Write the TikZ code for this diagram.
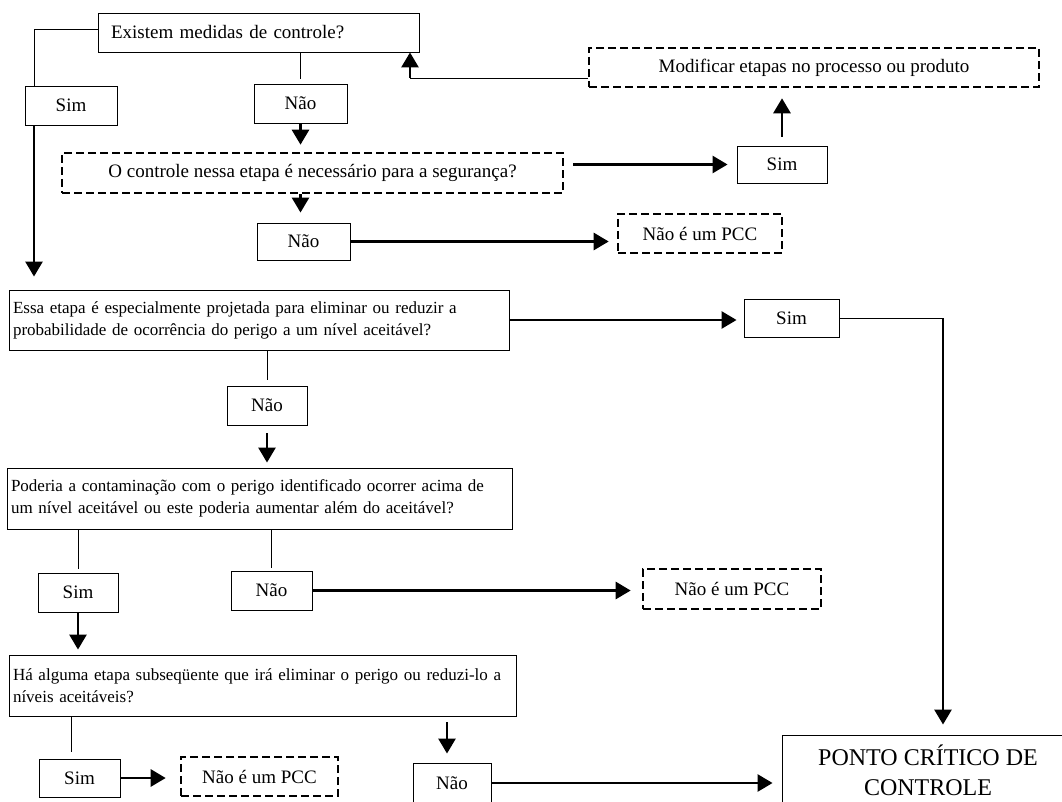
\documentclass[tikz,border=0pt]{standalone}
\usepackage{fontspec}
\setmainfont{Liberation Serif}
\usepackage{tikz}
\usetikzlibrary{positioning,arrows.meta,calc}
\tikzset{
box/.style={
draw,
line width=0.9pt,
inner sep=0pt,
align=center,
font=\fontsize{19}{22}\selectfont
},
qbox/.style={
box,
align=left,
inner xsep=4pt
},
longq/.style={
qbox,
font=\fontsize{17}{22}\selectfont
},
dbox/.style={
box,
line width=2.6pt,
dash pattern=on 8pt off 4pt
},
arrow/.style={
-{Triangle[length=15pt,width=17pt]},
line width=2.8pt
},
line/.style={
line width=0.9pt
}
}

\begin{document}
\begin{tikzpicture}[x=1pt,y=-1pt]
\useasboundingbox (0,0) rectangle (1062,802);
\clip (0,0) rectangle (1062,802);

% questions
\node[qbox,inner xsep=13pt,text width=295pt,minimum height=39pt](q1) at (258.5,32.5){Existem medidas de controle?};
\node[dbox,minimum width=501pt,minimum height=40pt](q2) at (312.5,173){O controle nessa etapa é necessário para a segurança?};
\node[longq,text width=492pt,minimum height=60pt](q3) at (259,320){Essa etapa é especialmente projetada para eliminar ou reduzir a\\probabilidade de ocorrência do perigo a um nível aceitável?};
\node[longq,text width=497pt,minimum height=61pt](q4) at (259.5,498.5){Poderia a contaminação com o perigo identificado ocorrer acima de\\um nível aceitável ou este poderia aumentar além do aceitável?};
\node[longq,text width=499pt,minimum height=61pt](q5) at (262.5,685.5){Há alguma etapa subseqüente que irá eliminar o perigo ou reduzi-lo a\\níveis aceitáveis?};

% answers
\node[box,minimum width=92pt,minimum height=39pt](s1) at (71,105.5){Sim};
\node[box,minimum width=93pt,minimum height=39pt](n1) at (300.5,103.5){Não};
\node[box,minimum width=90pt,minimum height=37pt](s2) at (782,164.5){Sim};
\node[box,minimum width=93pt,minimum height=37pt](n2) at (303.5,241.5){Não};
\node[box,minimum width=95pt,minimum height=38pt](s3) at (791.5,318){Sim};
\node[box,minimum width=80pt,minimum height=39pt](n3) at (267,405.5){Não};
\node[box,minimum width=80pt,minimum height=39pt](s4) at (78,592.5){Sim};
\node[box,minimum width=81pt,minimum height=39pt](n4) at (271.5,590.5){Não};
\node[box,minimum width=81pt,minimum height=38pt](s5) at (79.5,778){Sim};
\node[box,minimum width=78pt,minimum height=40pt](n5) at (452,783){Não};

% results
\node[dbox,minimum width=450pt,minimum height=39pt](m1) at (814,67.5){Modificar etapas no processo ou produto};
\node[dbox,minimum width=164pt,minimum height=39pt](p1) at (700,233.5){Não é um PCC};
\node[dbox,minimum width=178pt,minimum height=40pt](p2) at (732,589){Não é um PCC};
\node[dbox,minimum width=157pt,minimum height=39pt](p3) at (259.5,776.5){Não é um PCC};
\node[box,minimum width=292pt,minimum height=70pt,font=\fontsize{24}{30}\selectfont](pcc) at (928,770){PONTO CRÍTICO DE\\CONTROLE};

\coordinate (k1) at (410,78);
\coordinate (k2) at (943,318);
\coordinate (k3) at (34,29);
\coordinate (k4) at ($(s5.north)+(-8.5,0)$);
\coordinate (k5) at ($(n5.north)+(-5,0)$);

% thin links
\draw[line](q1.west|-k3)--(k3)--(k3|-s1.north);
\draw[line,shorten >=5pt](n1.north|-q1.south)--(n1.north);
\draw[line,shorten >=6pt](n3.north|-q3.south)--(n3.north);
\draw[line,shorten >=4pt](s4.north|-q4.south)--(s4.north);
\draw[line,shorten >=3pt](n4.north|-q4.south)--(n4.north);
\draw[line,shorten >=7pt](k4|-q5.south)--(k4);
\draw[line](k1-|m1.west)--(k1);
\draw[line](s3.east|-k2)--(k2);

% arrows
\draw[arrow,shorten >=13pt](k3|-s1.south)--(k3|-q3.north);
\draw[arrow,shorten >=7pt](n1.south)--(n1.south|-q2.north);
\draw[arrow,shorten >=10pt](n1.south|-q2.south)--(n1.south|-n2.north);
\draw[arrow,shorten <=9pt,shorten >=9pt](q2.east|-s2.west)--(s2.west);
\draw[arrow,shorten <=9pt,shorten >=10pt](s2.north)--(s2.north|-m1.south);
\draw[arrow](k1)--(k1|-q1.south);
\draw[arrow,shorten >=8pt](n2.east)--(n2.east-|p1.west);
\draw[arrow,shorten >=7pt](q3.east)--(q3.east-|s3.west);
\draw[arrow,shorten >=10pt](k2)--(k2|-pcc.north);
\draw[arrow,shorten <=8pt,shorten >=5pt](n3.south)--(n3.south|-q4.north);
\draw[arrow,shorten >=11pt](n4.east)--(n4.east-|p2.west);
\draw[arrow,shorten >=5pt](s4.south)--(s4.south|-q5.north);
\draw[arrow,shorten >=14pt](s5.east)--(s5.east-|p3.west);
\draw[arrow,shorten <=6pt,shorten >=9pt](k5|-q5.south)--(k5);
\draw[arrow,shorten >=9pt](n5.east)--(n5.east-|pcc.west);
\end{tikzpicture}
\end{document}
